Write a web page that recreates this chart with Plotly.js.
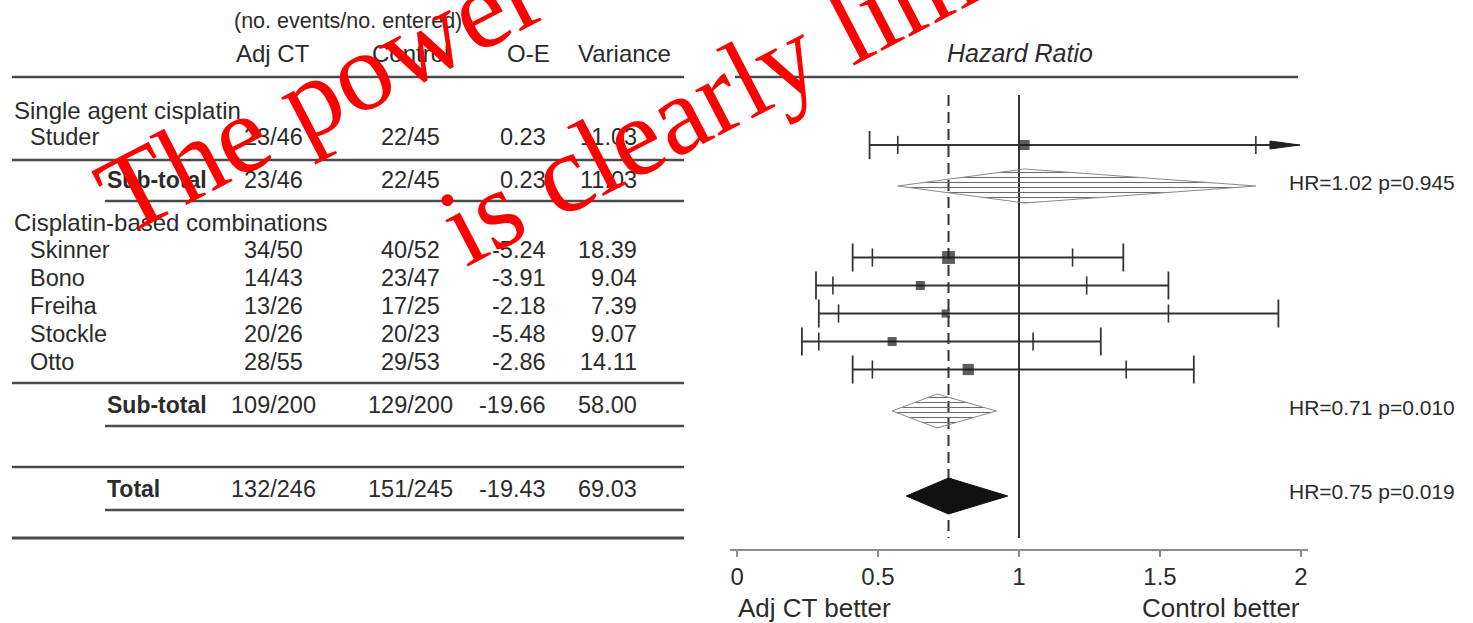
<!DOCTYPE html>
<html>
<head>
<meta charset="utf-8">
<script src="https://cdn.plot.ly/plotly-3.0.1.min.js"></script>
<style>
  html, body { margin: 0; padding: 0; background: #fff; }
  #chart { width: 1473px; height: 623px; }
</style>
</head>
<body>
<div id="chart"></div>
<script>
// ---- Trial data -------------------------------------------------------
const groups = ['Single agent cisplatin', 'Cisplatin-based combinations'];
const trials = ['Studer', 'Skinner', 'Bono', 'Freiha', 'Stockle', 'Otto'];
const adjCT = ['23/46', '34/50', '14/43', '13/26', '20/26', '28/55'];
const control = ['22/45', '40/52', '23/47', '17/25', '20/23', '29/53'];
const oMinusE = [0.23, -5.24, -3.91, -2.18, -5.48, -2.86];
const variance = [11.03, 18.39, 9.04, 7.39, 9.07, 14.11];
const hazardRatio = [1.02, 0.75, 0.65, 0.74, 0.55, 0.82];
const ci95Low = [0.57, 0.48, 0.34, 0.36, 0.29, 0.48];
const ci95High = [1.84, 1.19, 1.24, 1.53, 1.05, 1.38];
const ci99Low = [0.47, 0.41, 0.28, 0.29, 0.23, 0.41];
const ci99High = [2.22, 1.37, 1.53, 1.92, 1.29, 1.62];

// ---- Pooled estimates ---------------------------------------------------
const summaryLabels = ['Sub-total', 'Sub-total', 'Total'];
const summaryAdjCT = ['23/46', '109/200', '132/246'];
const summaryControl = ['22/45', '129/200', '151/245'];
const summaryOE = [0.23, -19.66, -19.43];
const summaryVariance = [11.03, 58.00, 69.03];
const summaryHR = [1.02, 0.71, 0.75];
const summaryLow = [0.57, 0.55, 0.60];
const summaryHigh = [1.84, 0.92, 0.96];
const summaryP = ['0.945', '0.010', '0.019'];

// ---- Axis ----------------------------------------------------------------
const hrTicks = [0, 0.5, 1, 1.5, 2];
const hrTickText = ['0', '0.5', '1', '1.5', '2'];
const favourLabels = ['Adj CT better', 'Control better'];

// ---- Page geometry (pixels) ---------------------------------------------
const W = 1473, H = 623;
const px = x => x / W;
const py = y => 1 - y / H;
const axisY = 549;
const hrMax = hrTicks[hrTicks.length - 1];

const groupY = [110, 222];
const trialTextY = [137, 249.5, 277.5, 305.5, 333.5, 361.5];
const trialMarkY = trialTextY.map(y => y + 8);
const summaryTextY = [180, 405, 489];
const summaryMarkY = [186, 411, 496];
const summaryHalf = [17, 17, 18];
const col = { group: 12, trial: 28, summary: 105, adj: 273, ctl: 410, oe: 548, vr: 639 };

const ink = '#2b2b2b';
const rule = '#4a4a4a';
const whisker = '#333333';
const sans = 'Liberation Sans, Arial, Helvetica, sans-serif';

function label(text, x, y, anchor, size, extra) {
  return Object.assign({
    xref: 'paper', yref: 'paper', x: px(x), y: py(y),
    xanchor: anchor, yanchor: 'middle', showarrow: false, text: text,
    font: { family: sans, size: size, color: ink }
  }, extra || {});
}

const annotations = [];

// Column headers
annotations.push(label('(no. events/no. entered)', 232, 21, 'left', 21.5));
annotations.push(label('Adj CT', col.adj, 53, 'center', 24));
annotations.push(label('Control', col.ctl, 53, 'center', 24));
annotations.push(label('O-E', 552, 53, 'right', 24));
annotations.push(label('Variance', 576, 53, 'left', 24));
annotations.push(label('<i>Hazard Ratio</i>', 1020, 53, 'center', 25));

// Group headings
groups.forEach((g, i) => annotations.push(label(g, col.group, groupY[i], 'left', 24)));

// Trial rows
trials.forEach((t, i) => {
  const y = trialTextY[i];
  annotations.push(label(t, col.trial, y, 'left', 23.5));
  annotations.push(label(adjCT[i], col.adj, y, 'center', 23.5));
  annotations.push(label(control[i], col.ctl, y, 'center', 23.5));
  annotations.push(label(oMinusE[i].toFixed(2), col.oe, y, 'right', 23.5));
  annotations.push(label(variance[i].toFixed(2), col.vr, y, 'right', 23.5));
});

// Summary rows
summaryLabels.forEach((s, i) => {
  const y = summaryTextY[i];
  annotations.push(label('<b>' + s + '</b>', col.summary, y, 'left', 23));
  annotations.push(label(summaryAdjCT[i], col.adj, y, 'center', 23.5));
  annotations.push(label(summaryControl[i], col.ctl, y, 'center', 23.5));
  annotations.push(label(summaryOE[i].toFixed(2), col.oe, y, 'right', 23.5));
  annotations.push(label(summaryVariance[i].toFixed(2), col.vr, y, 'right', 23.5));
  annotations.push(label('HR=' + summaryHR[i].toFixed(2) + ' p=' + summaryP[i], 1287, y + 2, 'left', 21));
});

// Favour labels under the axis
annotations.push(label(favourLabels[0], 736, 608, 'left', 26));
annotations.push(label(favourLabels[1], 1302, 608, 'right', 26));

// ---- Table rules ---------------------------------------------------------
function hrule(x0, x1, y, w) {
  return { type: 'line', xref: 'paper', yref: 'paper', x0: px(x0), x1: px(x1), y0: py(y), y1: py(y),
           line: { color: rule, width: w || 2.4 }, layer: 'below' };
}
const shapes = [
  hrule(12, 684, 77), hrule(735, 1298, 77),
  hrule(12, 684, 160), hrule(105, 684, 201),
  hrule(12, 684, 383), hrule(105, 684, 426),
  hrule(12, 684, 467), hrule(105, 684, 510),
  hrule(12, 684, 538, 3.2)
];

// Reference lines: no effect (HR = 1) and the overall estimate
shapes.push({ type: 'line', xref: 'x', yref: 'y', x0: 1, x1: 1, y0: 95, y1: 538,
              line: { color: '#333', width: 2 }, layer: 'below' });
shapes.push({ type: 'line', xref: 'x', yref: 'y', x0: summaryHR[2], x1: summaryHR[2], y0: 95, y1: 538,
              line: { color: '#333', width: 2, dash: '11px,6px' }, layer: 'below' });

// Arrowheads for intervals that run past the axis
const arrowLen = 0.105;
trials.forEach((t, i) => {
  if (ci99High[i] > hrMax) {
    const y = trialMarkY[i];
    shapes.push({ type: 'path', xref: 'x', yref: 'y',
      path: `M ${hrMax - 0.005} ${y} L ${hrMax - 0.005 - arrowLen} ${y - 4} L ${hrMax - 0.005 - arrowLen} ${y + 4} Z`,
      fillcolor: '#222', line: { color: '#222', width: 1 } });
  }
});

// ---- Forest traces -------------------------------------------------------
const traces = [];

// Confidence interval lines
const ciX = [], ciY = [];
trials.forEach((t, i) => {
  ciX.push(ci99Low[i], Math.min(ci99High[i], hrMax - 0.005), null);
  ciY.push(trialMarkY[i], trialMarkY[i], null);
});
traces.push({ type: 'scatter', mode: 'lines', x: ciX, y: ciY,
  line: { color: whisker, width: 1.8 }, hoverinfo: 'skip' });

// Outer (99%) whisker ends
const outX = [], outY = [];
trials.forEach((t, i) => {
  outX.push(ci99Low[i]); outY.push(trialMarkY[i]);
  if (ci99High[i] <= hrMax) { outX.push(ci99High[i]); outY.push(trialMarkY[i]); }
});
traces.push({ type: 'scatter', mode: 'markers', x: outX, y: outY,
  marker: { symbol: 'line-ns-open', size: 20, color: whisker, line: { color: whisker, width: 1.8 } },
  hoverinfo: 'skip' });

// Inner (95%) ticks
const inX = [], inY = [];
trials.forEach((t, i) => {
  inX.push(ci95Low[i], ci95High[i]); inY.push(trialMarkY[i], trialMarkY[i]);
});
traces.push({ type: 'scatter', mode: 'markers', x: inX, y: inY,
  marker: { symbol: 'line-ns-open', size: 13, color: whisker, line: { color: whisker, width: 1.6 } },
  hoverinfo: 'skip' });

// Point estimates, area scaled with the information (variance)
traces.push({ type: 'scatter', mode: 'markers', x: hazardRatio, y: trialMarkY,
  marker: { symbol: 'square', color: '#1a1a1a', size: variance.map(v => 3 * Math.sqrt(v)), line: { width: 0 } },
  hoverinfo: 'skip' });

// Pooled diamonds
summaryLabels.forEach((s, i) => {
  const y = summaryMarkY[i], h = summaryHalf[i];
  const solid = i === summaryLabels.length - 1;
  const tr = {
    type: 'scatter', mode: 'lines', fill: 'toself',
    x: [summaryLow[i], summaryHR[i], summaryHigh[i], summaryHR[i], summaryLow[i]],
    y: [y, y - h, y, y + h, y],
    line: { color: solid ? '#111' : '#8a8a8a', width: 1 },
    hoverinfo: 'skip'
  };
  if (solid) {
    tr.fillcolor = '#111';
  } else {
    tr.fillcolor = 'rgba(0,0,0,0)';
    tr.fillpattern = { shape: '-', fgcolor: '#6e6e6e', size: 5, solidity: 0.22, fillmode: 'replace' };
  }
  traces.push(tr);
});

// ---- Overlay caption ----------------------------------------------------
const captionLines = ['The power of this meta-analysis', 'is clearly limited'];
const captionStart = [[124, 238], [466, 268]];
const captionAngle = 27.5, captionSize = 112;
function captionCenter(text, sx, sy) {
  const ctx = document.createElement('canvas').getContext('2d');
  ctx.font = captionSize + 'px "Liberation Serif"';
  const w = ctx.measureText(text).width;
  const a = captionAngle * Math.PI / 180;
  const k = 0.34 * captionSize;
  return [sx + Math.cos(a) * w / 2 - Math.sin(a) * k,
          sy - Math.sin(a) * w / 2 - Math.cos(a) * k];
}
captionLines.forEach((t, i) => {
  const c = captionCenter(t, captionStart[i][0], captionStart[i][1]);
  annotations.push({ xref: 'paper', yref: 'paper', x: px(c[0]), y: py(c[1]),
    xanchor: 'center', yanchor: 'middle', showarrow: false, text: t, textangle: -captionAngle,
    font: { family: 'Liberation Serif, Times New Roman, serif', size: captionSize, color: '#ff0000' } });
});

// ---- Layout ----------------------------------------------------------------
const layout = {
  width: W, height: H,
  margin: { l: 0, r: 0, t: 0, b: 0, pad: 0 },
  paper_bgcolor: '#fff', plot_bgcolor: 'rgba(0,0,0,0)',
  showlegend: false,
  xaxis: {
    domain: [px(730), px(1308)], range: [-0.025, 2.025],
    tickvals: hrTicks, ticktext: hrTickText,
    ticks: 'outside', ticklen: 6, tickwidth: 1.5, tickcolor: '#8c8c8c',
    showline: true, linecolor: '#8c8c8c', linewidth: 1.5,
    showgrid: false, zeroline: false,
    tickfont: { family: sans, size: 24, color: ink },
    anchor: 'y', fixedrange: true
  },
  yaxis: {
    domain: [py(axisY), 1], range: [axisY, 0],
    visible: false, showgrid: false, zeroline: false, fixedrange: true
  },
  shapes: shapes,
  annotations: annotations
};

Plotly.newPlot('chart', traces, layout, { staticPlot: true, displayModeBar: false });
</script>
</body>
</html>
